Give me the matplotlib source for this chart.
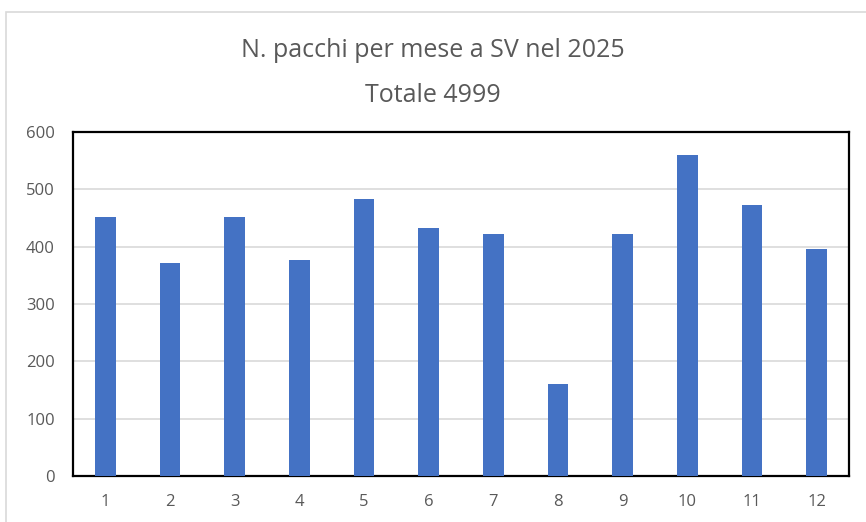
import matplotlib.pyplot as plt
from matplotlib.patches import Rectangle

# monthly parcel counts
mesi = ['1', '2', '3', '4', '5', '6', '7', '8', '9', '10', '11', '12']
pacchi = [451, 372, 451, 377, 483, 432, 422, 160, 422, 560, 473, 396]
yticks = [0, 100, 200, 300, 400, 500, 600]

grey = '#595959'
plt.rcParams['font.family'] = ['Open Sans', 'DejaVu Sans']

fig = plt.figure(figsize=(8.66, 5.22), dpi=100)
ax = fig.add_axes([73/866, 46/522, 776/866, 344/522])

# outer chart-area border
fig.patches.append(Rectangle((5.5/866, -0.05), 1.0, 1 - 12/522 + 0.05,
                             transform=fig.transFigure, fill=False,
                             edgecolor='#d9d9d9', linewidth=1.2))

x = range(len(mesi))
ax.bar(x, pacchi, width=0.32, color='#4472C4', zorder=3)
ax.set_xlim(-0.5, len(mesi) - 0.5)
ax.set_ylim(0, 600)
ax.set_xticks(list(x))
ax.set_xticklabels(mesi)
ax.set_yticks(yticks)
ax.yaxis.grid(True, color='#d9d9d9', linewidth=1.2, zorder=0)
ax.tick_params(length=0, colors=grey, labelsize=12)
ax.tick_params(axis='y', pad=13)
ax.tick_params(axis='x', pad=13)
for s in ax.spines.values():
    s.set_color('black')
    s.set_linewidth(1.6)

fig.text(0.5, 1 - 57/522, 'N. pacchi per mese a SV nel 2025', ha='center', va='baseline',
         fontsize=18, color=grey)
fig.text(0.5, 1 - 102/522, 'Totale 4999', ha='center', va='baseline',
         fontsize=18, color=grey)

fig.savefig('out.png', dpi=100)
